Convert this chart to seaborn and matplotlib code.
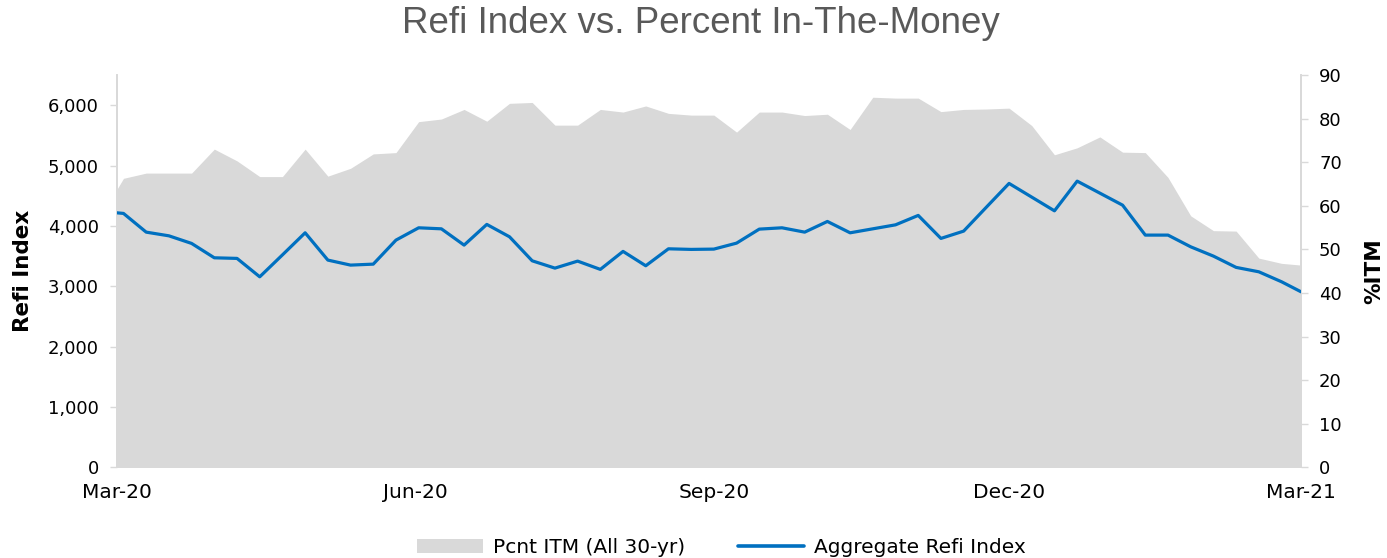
import numpy as np
import pandas as pd
import matplotlib
matplotlib.use("Agg")
import matplotlib.pyplot as plt
import matplotlib.dates as mdates
from matplotlib.patches import Patch
from matplotlib.lines import Line2D
import seaborn as sns

# ---- data ----
dates = pd.to_datetime(["2020-03-01"]) \
    .append(pd.date_range("2020-03-03", periods=52, freq="7D")) \
    .append(pd.to_datetime(["2021-03-01"]))

refi_index = [4217, 4207, 3897, 3836, 3710, 3472, 3462, 3157, 3520, 3886,
              3434, 3351, 3367, 3765, 3969, 3952, 3682, 4025, 3820, 3422,
              3301, 3417, 3280, 3578, 3340, 3621, 3611, 3616, 3715, 3947,
              3969, 3897, 4074, 3886, 3952, 4018, 4174, 3793, 3914, 4310,
              4704, 4477, 4250, 4742, 4543, 4344, 3848, 3848, 3654, 3500,
              3313, 3240, 3075, 2909]

pct_itm = [63.8, 66.3, 67.5, 67.5, 67.5, 73.0, 70.3, 66.7, 66.7, 73.0,
           66.8, 68.6, 71.9, 72.2, 79.3, 79.9, 82.1, 79.4, 83.5, 83.7,
           78.5, 78.5, 82.1, 81.5, 82.9, 81.2, 80.8, 80.8, 76.9, 81.5,
           81.5, 80.7, 81.0, 77.5, 84.9, 84.7, 84.7, 81.6, 82.1, 82.2,
           82.4, 78.4, 71.7, 73.3, 75.8, 72.3, 72.2, 66.5, 57.7, 54.3,
           54.2, 48.0, 46.8, 46.4]

title = "Refi Index vs. Percent In-The-Money"
left_label = "Refi Index"
right_label = "%ITM"
area_name = "Pcnt ITM (All 30-yr)"
line_name = "Aggregate Refi Index"
xtick_dates = pd.to_datetime(["2020-03-01", "2020-06-01", "2020-09-01",
                              "2020-12-01", "2021-03-01"])

df = pd.DataFrame({"date": dates, "refi": refi_index, "itm": pct_itm})

# ---- style ----
sns.set_theme(style="white")
plt.rcParams["font.family"] = ["DejaVu Sans"]
plt.rcParams["text.color"] = "black"
plt.rcParams["axes.labelcolor"] = "black"

AREA = "#d9d9d9"
LINE = "#0070c0"
SPINE = "#d9d9d9"
TXT = "#000000"

fig = plt.figure(figsize=(13.87, 5.58), dpi=100)
ax = fig.add_axes([117/1387, 1 - 467.4/558, (1301-117)/1387, (467.4-75)/558])
ax2 = ax.twinx()

# area on primary axes (drawn behind), scale on the right
ax.fill_between(df["date"], df["itm"], 0, color=AREA, linewidth=0, zorder=1)
ax.set_ylim(0, 90)
ax.set_yticks(np.arange(0, 91, 10))

# line on twin axes, scale on the left
sns.lineplot(data=df, x="date", y="refi", ax=ax2, color=LINE, linewidth=2.3,
             zorder=3)
ax2.set_ylim(0, 6500)
ax2.set_yticks(np.arange(0, 6001, 1000))
ax2.yaxis.set_major_formatter(matplotlib.ticker.FuncFormatter(lambda v, p: f"{int(v):,}"))
ax2.set_xlabel("")
ax.set_xlabel("")

# swap sides: primary (area) -> right, twin (line) -> left
ax.yaxis.tick_right()
ax.yaxis.set_label_position("right")
ax2.yaxis.tick_left()
ax2.yaxis.set_label_position("left")
ax.set_ylabel(right_label, fontsize=15.5, fontweight="bold", labelpad=16,
              color=TXT)
ax2.set_ylabel(left_label, fontsize=15.5, fontweight="bold", labelpad=11,
               color=TXT)

for a in (ax, ax2):
    a.set_xlim(xtick_dates[0], xtick_dates[-1])
    a.set_xticks(xtick_dates)
    a.xaxis.set_major_formatter(mdates.DateFormatter("%b-%y"))
    for s in a.spines.values():
        s.set_color(SPINE)
    a.spines["top"].set_visible(False)
    a.spines["bottom"].set_visible(False)
    a.tick_params(axis="y", which="major", length=5, width=1, color=SPINE,
                  labelsize=13, labelcolor=TXT, pad=8)
    a.set_facecolor("none")
    a.grid(False)
ax.spines["bottom"].set_visible(True)
ax.tick_params(axis="x", length=5, width=1, color=SPINE, labelsize=14.5,
               labelcolor=TXT, pad=6)
ax2.tick_params(axis="x", bottom=False, labelbottom=False)
if ax2.get_legend():
    ax2.get_legend().remove()

fig.suptitle(title, x=0.505, y=0.99, fontsize=26.5, color="#595959",
             fontfamily="Liberation Sans")

handles = [Patch(facecolor=AREA, edgecolor="none", label=area_name),
           Line2D([0], [0], color=LINE, lw=2.6, label=line_name)]
fig.legend(handles=handles, loc="lower center", ncol=2, frameon=False,
           fontsize=14.5, bbox_to_anchor=(0.52, -0.03), handlelength=3.3,
           columnspacing=2.6, handletextpad=0.5, labelcolor=TXT)

fig.savefig("out.png", dpi=100)
